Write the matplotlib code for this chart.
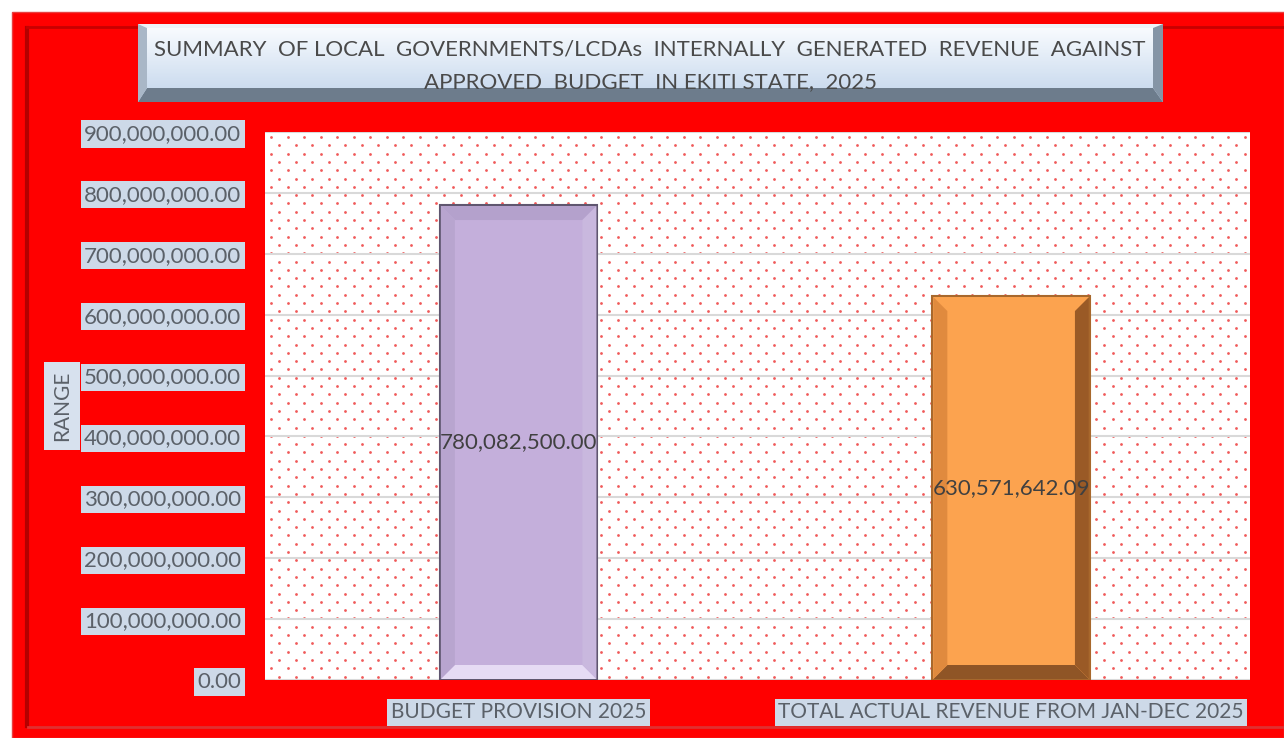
import numpy as np
import matplotlib.pyplot as plt
from matplotlib.patches import Rectangle, Polygon
from matplotlib.lines import Line2D
from matplotlib.transforms import IdentityTransform
from matplotlib.colors import LinearSegmentedColormap

# data
categories = ['BUDGET PROVISION 2025', 'TOTAL ACTUAL REVENUE FROM JAN-DEC 2025']
values = [780082500.00, 630571642.09]
bar_colors = ['#c4afdb', '#fca34f']
yticks = [0, 100e6, 200e6, 300e6, 400e6, 500e6, 600e6, 700e6, 800e6, 900e6]
title1 = 'SUMMARY  OF LOCAL  GOVERNMENTS/LCDAs  INTERNALLY  GENERATED  REVENUE  AGAINST'
title2 = 'APPROVED  BUDGET  IN EKITI STATE,  2025'

W, H = 1284, 738


def fx(x):
    return x / W


def fy(y):
    return 1 - y / H


plt.rcParams['font.family'] = ['Lato', 'DejaVu Sans']
fig = plt.figure(figsize=(W / 100, H / 100), dpi=100)
fig.patch.set_facecolor('white')

# red chart frame
fig.patches.append(Rectangle((fx(12), 0), 1 - fx(12), fy(12), transform=fig.transFigure,
                             facecolor='#ff0000', edgecolor='#e84040', lw=1, zorder=-3))
fig.lines.append(Line2D([fx(27), fx(27)], [fy(28), fy(726)], transform=fig.transFigure,
                        color='#b40000', lw=3, zorder=-2))
fig.lines.append(Line2D([fx(27), 1], [fy(27), fy(27)], transform=fig.transFigure,
                        color='#c80000', lw=2, zorder=-2))
fig.lines.append(Line2D([fx(28), 1], [fy(727), fy(727)], transform=fig.transFigure,
                        color='#e03030', lw=2, zorder=-2))

# plot area
ax = fig.add_axes([fx(265), fy(680), fx(1250) - fx(265), (680 - 132) / H])
ax.set_facecolor('white')
for s in ax.spines.values():
    s.set_visible(False)

# dotted background texture
pw, ph = 985, 548
xs, ys = [], []
for i, r in enumerate(np.arange(5, ph, 8.3)):
    off = 8.25 if i % 2 else 0
    c = np.arange(6 + off, pw, 16.5)
    xs.extend(c / pw)
    ys.extend([1 - r / ph] * len(c))
ax.scatter(xs, ys, s=4, c='#f05a5a', lw=0, transform=ax.transAxes, zorder=1)

x = np.arange(len(categories))
bars = ax.bar(x + 0.015, values, width=0.32, color=bar_colors, zorder=3,
              edgecolor=['#5f566f', '#a8682c'], lw=1.5)
ax.set_xlim(-0.5, 1.5)
ax.set_ylim(0, 900e6)
ax.set_yticks(yticks)
ax.set_yticklabels([f'{v:,.2f}' for v in yticks])
ax.set_axisbelow('line')
ax.yaxis.grid(True, color='#d9d9d9', lw=1.5)
ax.set_xticks(x + 0.015, categories)
ax.tick_params(axis='y', length=0, pad=17, labelsize=16, labelcolor='#5b6169')
ax.tick_params(axis='x', length=0, pad=16, labelsize=15, labelcolor='#5b6169')
for lab in ax.get_yticklabels() + ax.get_xticklabels():
    lab.set_bbox(dict(facecolor='#cdd9e8', edgecolor='none', pad=2.5))

for xi, v in zip(x + 0.015, values):
    ax.text(xi, v / 2, f'{v:,.2f}', ha='center', va='center', fontsize=16,
            color='#404040', zorder=6)

fig.text(fx(62), fy(406), 'RANGE', rotation=90, ha='center', va='center', fontsize=15,
         color='#5b6169', bbox=dict(facecolor='#d7e1ee', edgecolor='none', pad=6))

# bevels on the bars (top, bottom, left, right)
fig.canvas.draw()
bevel_cols = [('#b4a1cc', '#e6dbf4', '#b8a5cf', '#c9b8de'),
              ('#fca34f', '#8f5526', '#e08a3e', '#9a5a26')]
b = 14
for bar, (top, bot, left, right) in zip(bars, bevel_cols):
    bb = bar.get_window_extent()
    x0, y0, x1, y1 = bb.x0 + 1, bb.y0 + 1, bb.x1 - 1, bb.y1 - 1
    polys = [
        ([(x0, y1), (x1, y1), (x1 - b, y1 - b), (x0 + b, y1 - b)], top),
        ([(x0, y0), (x1, y0), (x1 - b, y0 + b), (x0 + b, y0 + b)], bot),
        ([(x0, y0), (x0, y1), (x0 + b, y1 - b), (x0 + b, y0 + b)], left),
        ([(x1, y0), (x1, y1), (x1 - b, y1 - b), (x1 - b, y0 + b)], right),
    ]
    for pts, col in polys:
        ax.add_patch(Polygon(pts, closed=True, transform=IdentityTransform(), facecolor=col,
                             edgecolor='none', zorder=4))
ax.set_xlim(-0.5, 1.5)
ax.set_ylim(0, 900e6)

# title box
tb = fig.add_axes([fx(138), fy(102), fx(1163) - fx(138), (102 - 24) / H])
tb.axis('off')
grad = np.linspace(0, 1, 100).reshape(-1, 1)
cm = LinearSegmentedColormap.from_list('tb', ['#fbfdff', '#c2d5ec'])
tb.imshow(grad, cmap=cm, extent=[0, 1, 0, 1], aspect='auto', zorder=0)
bw, bh = 1025, 78
lx, rx, by, ty = 9 / bw, 10 / bw, 14 / bh, 4 / bh
for pts, col in [
    ([(0, 1), (1, 1), (1 - rx, 1 - ty), (lx, 1 - ty)], '#eef3f8'),
    ([(0, 0), (1, 0), (1 - rx, by), (lx, by)], '#6d7c8c'),
    ([(0, 0), (0, 1), (lx, 1 - ty), (lx, by)], '#a9b7c7'),
    ([(1, 0), (1, 1), (1 - rx, 1 - ty), (1 - rx, by)], '#8595a6'),
]:
    tb.add_patch(Polygon(pts, closed=True, transform=tb.transAxes, facecolor=col,
                         edgecolor='none', zorder=1))
tb.set_xlim(0, 1)
tb.set_ylim(0, 1)

fig.text(fx(650), fy(49), title1, ha='center', va='center', fontsize=16, color='#4a4a4a', zorder=10)
fig.text(fx(650), fy(82), title2, ha='center', va='center', fontsize=16, color='#4a4a4a', zorder=10)

fig.savefig('out.png', dpi=100)
